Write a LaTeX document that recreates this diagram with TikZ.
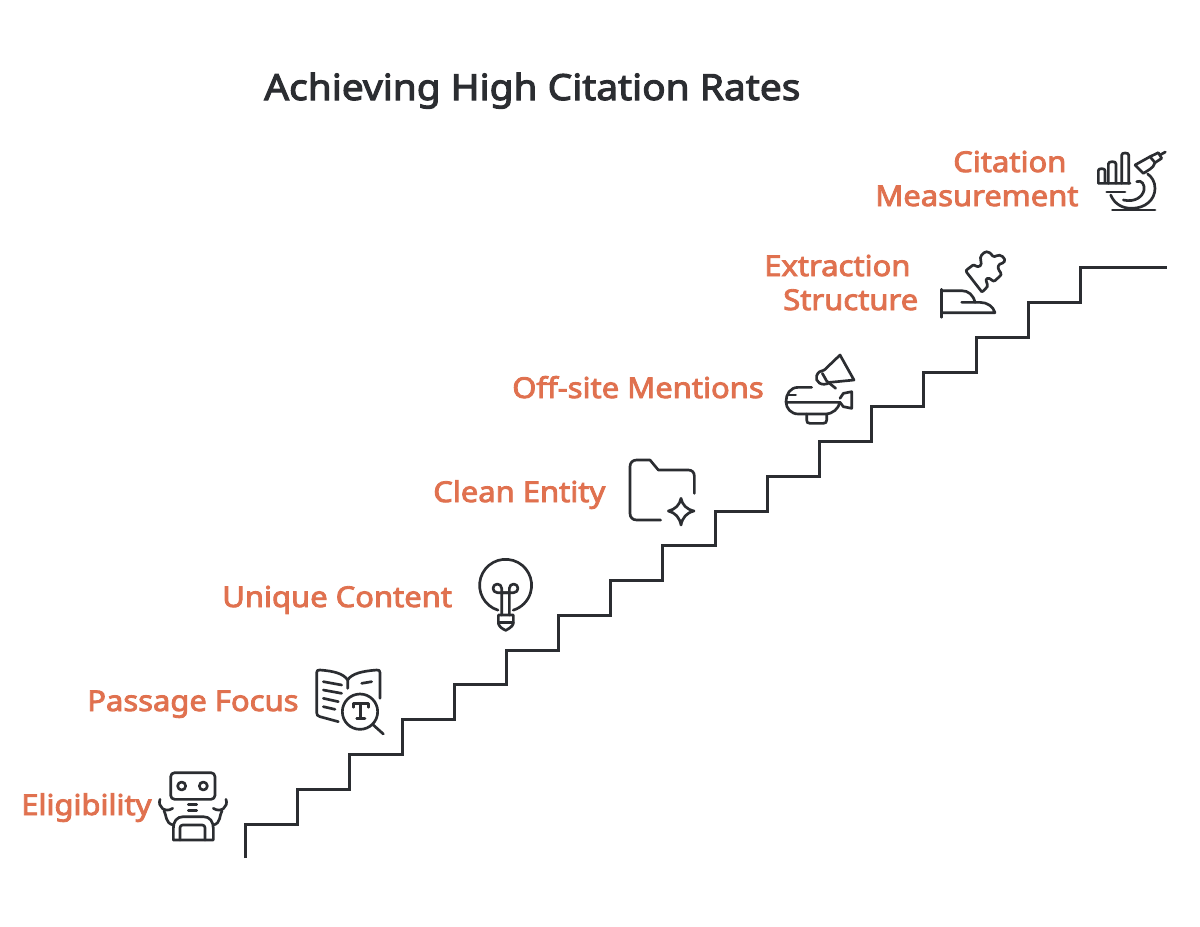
\documentclass[tikz,border=0pt]{standalone}
\usepackage{fontspec}
\setmainfont{Noto Sans}
\newfontfamily\heavyfont{Noto Sans}[FakeBold=3,FakeStretch=1.08]
\definecolor{inkdark}{HTML}{2B2D31}
\definecolor{labelorange}{HTML}{E0714F}
\tikzset{
  stairline/.style={draw=inkdark,line width=2.25pt,line join=miter},
  iconline/.style={draw=inkdark,line width=2pt,line cap=round,line join=round},
  labeltext/.style={anchor=base west,inner sep=0pt,text=labelorange,font=\heavyfont\fontsize{21.5}{26}\selectfont},
  titletext/.style={anchor=base west,inner sep=0pt,text=inkdark,font=\heavyfont\fontsize{27}{32}\selectfont},
  iconbox/.style={shift={#1},scale=1/3}
}
\begin{document}
\begin{tikzpicture}[x=0.75pt,y=0.75pt,yscale=-1,xscale=1]
    \useasboundingbox (0,0) rectangle (1200,926);
    \fill[white] (0,0) rectangle (1200,926);

    % Text Node
    \node[titletext] (title) at (264,100) {Achieving High Citation Rates};
    \node[labeltext] (citation) at (953,172) {Citation};
    \node[labeltext] (measurement) at (875,206) {Measurement};
    \node[labeltext] (extraction) at (764,276) {Extraction};
    \node[labeltext] (structure) at (783,310) {Structure};
    \node[labeltext] (offsite) at (512,398) {Off-site Mentions};
    \node[labeltext] (entity) at (433,502) {Clean Entity};
    \node[labeltext] (unique) at (222,607) {Unique Content};
    \node[labeltext] (passage) at (87,711) {Passage Focus};
    \node[labeltext] (eligibility) at (21,815) {Eligibility};

    %Stairs
    \draw[stairline] (245,858) |- (297,824) |- (349,789) |- (402,754) |- (454,719) |- (506,684)
      |- (558,650) |- (610,615) |- (662,580) |- (715,545) |- (767,511) |- (819,476) |- (871,441)
      |- (923,406) |- (976,372) |- (1028,337) |- (1080,302) |- (1167,267);

    %Icon: robot
    \begin{scope}[iconbox={(150,760)}]
      \draw[iconline,rounded corners=3pt] (62,38) rectangle (195,118);
      \draw[iconline] (95,78) circle [radius=12] (160,78) circle [radius=12];
      \draw[iconline] (115,133) -- (140,133) (115,152) -- (140,152);
      \draw[iconline] (70,240) -- (70,205) .. controls (70,185) and (80,170) .. (100,170) -- (160,170) .. controls (180,170) and (190,185) .. (190,205) -- (190,240) -- cycle;
      \draw[iconline,rounded corners=2pt] (90,240) -- (90,195) -- (165,195) -- (165,240);
      \draw[iconline] (30,118) .. controls (22,140) and (45,160) .. (68,145);
      \draw[iconline] (42,152) .. controls (50,165) and (45,190) .. (70,195);
      \draw[iconline] (228,118) .. controls (236,140) and (213,160) .. (190,145);
      \draw[iconline] (216,152) .. controls (208,165) and (213,190) .. (190,195);
    \end{scope}

    %Icon: book with magnifier
    \begin{scope}[iconbox={(305,660)}]
      \draw[iconline] (100,185) -- (45,170) .. controls (38,168) and (35,165) .. (35,158) -- (35,38) .. controls (35,32) and (38,29) .. (45,30) .. controls (85,33) and (115,40) .. (128,60) -- (128,85);
      \draw[iconline] (128,60) .. controls (140,40) and (175,33) .. (215,30) .. controls (222,29) and (225,32) .. (225,38) -- (225,115);
      \draw[iconline] (55,65) -- (110,75) (55,90) -- (110,100) (55,115) -- (100,125) (55,140) -- (90,148) (170,70) -- (200,65);
      \draw[iconline] (165,155) circle [radius=53];
      \draw[iconline] (205,195) -- (235,222);
      \draw[iconline] (145,142) -- (145,130) -- (190,130) -- (190,142) (167,130) -- (167,175) (155,175) -- (180,175);
    \end{scope}

    %Icon: light bulb
    \begin{scope}[iconbox={(470,555)}]
      \draw[iconline] (84,165.5) arc [start angle=107,end angle=433,radius=78];
      \draw[iconline] (95,180) -- (95,100) arc [start angle=0,end angle=-270,radius=13] -- (118,113);
      \draw[iconline] (118,180) -- (118,100) arc [start angle=180,end angle=450,radius=13] -- (95,113);
      \draw[iconline] (85,180) -- (130,180) -- (130,205) .. controls (128,215) and (115,222) .. (107,226) .. controls (98,222) and (87,215) .. (85,205) -- cycle;
      \draw[iconline] (85,203) -- (130,203);
    \end{scope}

    %Icon: folder with sparkle
    \begin{scope}[iconbox={(620,450)}]
      \draw[iconline] (122,210) -- (50,210) .. controls (38,210) and (30,202) .. (30,190) -- (30,50) .. controls (30,38) and (38,30) .. (50,30) -- (90,30) -- (115,60) -- (205,60) .. controls (216,60) and (223,67) .. (223,78) -- (223,130);
      \draw[iconline] (183,145) .. controls (187,165) and (200,178) .. (222,183) .. controls (200,188) and (187,203) .. (183,225) .. controls (179,203) and (166,188) .. (145,183) .. controls (166,178) and (179,165) .. (183,145) -- cycle;
    \end{scope}

    %Icon: blimp and megaphone
    \begin{scope}[iconbox={(775,345)}]
      \draw[iconline] (110,127) -- (70,127) .. controls (45,127) and (33,148) .. (33,170) .. controls (33,190) and (48,207) .. (70,207) -- (150,207) .. controls (175,207) and (190,190) .. (195,172) -- (33,172);
      \draw[iconline] (40,150) -- (62,150);
      \draw[iconline] (195,160) -- (205,145) -- (230,140) -- (230,190) -- (205,185) -- (195,172);
      \draw[iconline] (95,207) -- (95,225) .. controls (95,232) and (98,235) .. (105,235) -- (145,235) .. controls (152,235) and (155,232) .. (155,225) -- (155,207);
      \draw[iconline] (148,75) -- (195,30) -- (237,105) -- (165,112) .. controls (140,128) and (118,108) .. (125,92) .. controls (128,82) and (138,76) .. (148,75);
      \draw[iconline] (142,85) -- (155,108) -- (182,130);
    \end{scope}

    %Icon: puzzle piece and cap
    \begin{scope}[iconbox={(930,240)}]
      \draw[iconline] (155,155) -- (110,97) .. controls (108,92) and (108,90) .. (112,88) -- (128,76) .. controls (135,72) and (140,85) .. (150,78) .. controls (160,70) and (145,55) .. (155,45) .. controls (165,33) and (175,30) .. (188,48) .. controls (195,55) and (205,38) .. (218,50) .. controls (232,62) and (220,70) .. (210,72) .. controls (200,78) and (205,90) .. (212,98) .. controls (215,103) and (213,106) .. (208,110) -- (195,122) .. controls (188,128) and (182,112) .. (172,115) .. controls (162,120) and (175,130) .. (172,140) -- (160,153) .. controls (158,156) and (156,156) .. (155,155) -- cycle;
      \draw[iconline] (35,148) -- (35,232);
      \draw[iconline] (35,152) -- (95,152) .. controls (115,152) and (130,165) .. (135,187);
      \draw[iconline] (95,187) -- (150,187) .. controls (172,187) and (190,200) .. (195,218) -- (35,218);
    \end{scope}

    %Icon: chart and microscope
    \begin{scope}[iconbox={(1080,140)}]
      \draw[iconline] (150,130) -- (55,130) -- (55,92) .. controls (55,88) and (58,86) .. (65,86) .. controls (72,86) and (75,88) .. (75,92) -- (75,130);
      \draw[iconline] (85,130) -- (85,72) .. controls (85,67) and (90,65) .. (97,65) .. controls (104,65) and (108,67) .. (108,72) -- (108,130);
      \draw[iconline] (125,130) -- (125,45) .. controls (125,41) and (130,39) .. (135,39) .. controls (142,39) and (146,41) .. (146,45) -- (146,130);
      \draw[iconline] (80,156) -- (135,156);
      \draw[iconline] (97,210) -- (225,210);
      \draw[iconline] (92,165) .. controls (105,195) and (130,205) .. (155,205) .. controls (195,205) and (225,180) .. (225,145) .. controls (225,125) and (215,110) .. (203,102);
      \draw[iconline] (170,125) .. controls (185,118) and (195,135) .. (192,150) .. controls (188,170) and (165,188) .. (130,180);
      \draw[iconline] (165,75) -- (210,50) -- (225,68) .. controls (220,85) and (205,90) .. (190,100) -- (165,75);
      \draw[iconline] (210,50) -- (235,38) -- (245,55) -- (225,68);
      \draw[iconline] (240,45) -- (256,36);
    \end{scope}
\end{tikzpicture}
\end{document}
